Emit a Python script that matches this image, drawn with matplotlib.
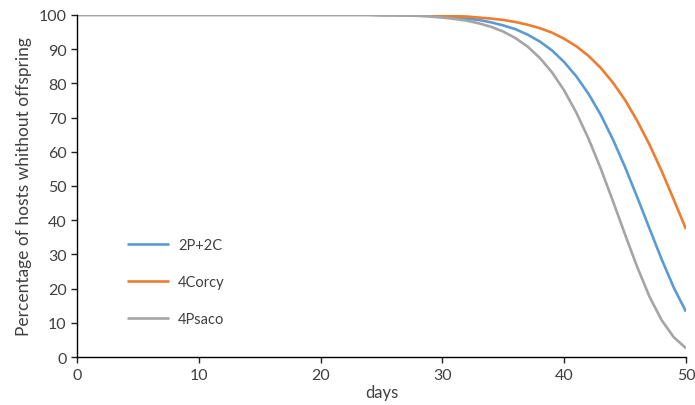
import matplotlib
matplotlib.use("Agg")
import matplotlib.pyplot as plt

plt.rcParams['font.family'] = ['Lato', 'DejaVu Sans']

days = [0, 10, 20, 21, 22, 23, 24, 25, 26, 27, 28, 29, 30, 31, 32, 33, 34, 35, 36, 37, 38,
        39, 40, 41, 42, 43, 44, 45, 46, 47, 48, 49, 50]

s_2p2c = [100, 100, 100, 100, 100, 100, 100, 99.9, 99.9, 99.9, 99.8, 99.7, 99.5, 99.3, 98.9,
          98.5, 97.8, 96.9, 95.8, 94.2, 92.2, 89.6, 86.2, 82.0, 76.9, 70.8, 63.6, 55.5,
          46.7, 37.6, 28.6, 20.3, 13.3]
s_4corcy = [100, 100, 100, 100, 100, 100, 100, 100, 100, 99.9, 99.9, 99.8, 99.8, 99.6, 99.5,
            99.2, 98.9, 98.5, 97.9, 97.1, 96.1, 94.8, 93.0, 90.8, 88.0, 84.5, 80.2, 75.1,
            69.0, 62.1, 54.4, 46.0, 37.4]
s_4psaco = [100, 100, 100, 100, 100, 100, 100, 99.9, 99.9, 99.8, 99.7, 99.5, 99.2, 98.8, 98.3,
            97.5, 96.5, 95.1, 93.2, 90.7, 87.4, 83.2, 77.9, 71.4, 63.8, 55.1, 45.6, 35.8,
            26.3, 17.7, 10.8, 5.8, 2.6]

labels = ["2P+2C", "4Corcy", "4Psaco"]
colors = ["#5B9BD5", "#ED7D31", "#A5A5A5"]

fig = plt.figure(figsize=(6.95, 4.06), dpi=100)
ax = fig.add_axes([0.111, 0.118, 0.876, 0.843])

for y, lab, c in zip([s_2p2c, s_4corcy, s_4psaco], labels, colors):
    ax.plot(days, y, color=c, lw=1.9, label=lab, solid_capstyle='butt', solid_joinstyle='round')

ax.set_xlim(0, 50)
ax.set_ylim(0, 100)
ax.set_xticks(range(0, 51, 10))
ax.set_yticks(range(0, 101, 10))
for s in ['top', 'right']:
    ax.spines[s].set_visible(False)
for s in ['left', 'bottom']:
    ax.spines[s].set_color('black')
    ax.spines[s].set_linewidth(1.0)
ax.tick_params(axis='both', direction='out', length=4, width=1, labelsize=11.5, colors='#222222',
               labelcolor='#404040')
ax.set_xlabel("days", fontsize=12, color='#404040', labelpad=2)
ax.set_ylabel("Percentage of hosts whithout offspring", fontsize=12.5, color='#404040', labelpad=5)

leg = ax.legend(loc='upper left', bbox_to_anchor=(0.06, 0.385), frameon=False,
                handlelength=2.9, handletextpad=0.6, labelspacing=1.55, fontsize=10.5)
for t in leg.get_texts():
    t.set_color('#404040')

fig.savefig("out.png", dpi=100)
